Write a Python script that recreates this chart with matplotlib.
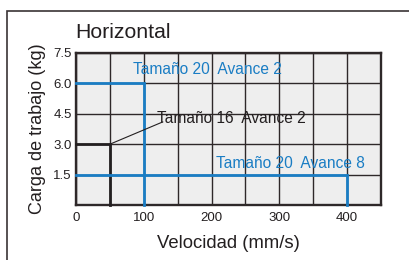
import matplotlib
matplotlib.use("Agg")
import matplotlib.pyplot as plt
from matplotlib.patches import Rectangle

plt.rcParams['font.family'] = ['Liberation Sans', 'DejaVu Sans']

title = "Horizontal"
xlabel = "Velocidad (mm/s)"
ylabel = "Carga de trabajo (kg)"
x_ticks = [0, 100, 200, 300, 400]
y_ticks = [1.5, 3.0, 4.5, 6.0, 7.5]
y_tick_labels = ["1.5", "3.0", "4.5", "6.0", "7.5"]

# series: (label, max speed, max load)
series_names = ["Tamaño 20  Avance 2", "Tamaño 16  Avance 2", "Tamaño 20  Avance 8"]
series_speed = [100, 50, 400]
series_load = [6.0, 3.0, 1.5]
series_colors = ["#1a7dc4", "#231f20", "#1a7dc4"]

fig = plt.figure(figsize=(4.09, 2.60), dpi=100)
ax = fig.add_axes([76/409, 1 - 205/260, 305/409, 152/260])

ax.set_xlim(0, 450)
ax.set_ylim(0, 7.5)
ax.set_facecolor("#eeeeee")
ax.set_xticks(x_ticks)
ax.set_xticks(range(0, 451, 50), minor=True)
ax.set_yticks(y_ticks)
ax.set_yticklabels(y_tick_labels)
ax.grid(True, which="both", color="#2e2829", linewidth=1.0)
ax.set_axisbelow(True)
ax.tick_params(which="both", length=0, labelsize=9.5, colors="#231f20", pad=5)
ax.tick_params(axis="y", pad=3)
for s in ax.spines.values():
    s.set_color("#2e2829")
    s.set_linewidth(1.7)

for name, sx, sy, c in zip(series_names, series_speed, series_load, series_colors):
    ax.plot([0, sx, sx], [sy, sy, 0], color=c, linewidth=2.0, solid_joinstyle="miter",
            clip_on=False, zorder=3)

# labels
ax.text(84, 6.71, series_names[0], color=series_colors[0], fontsize=11.2, va="center", ha="left")
ax.text(119, 4.29, series_names[1], color=series_colors[1], fontsize=11.2, va="center", ha="left")
ax.text(207, 2.07, series_names[2], color=series_colors[2], fontsize=11.2, va="center", ha="left")
ax.plot([series_speed[1], 128], [series_load[1], 4.1], color="#231f20", linewidth=0.8, zorder=3)

ax.set_xlabel(xlabel, fontsize=13.3, color="#231f20", labelpad=8)
ax.set_ylabel(ylabel, fontsize=13, color="#231f20", labelpad=5)
fig.text(75/409, 1 - 32/260, title, fontsize=15.3, color="#231f20", ha="left", va="center")

fig.patches.append(Rectangle((7/409, -0.1), 1.2, 1 - 10.5/260 + 0.1, transform=fig.transFigure,
                             fill=False, edgecolor="#3a3335", linewidth=1.2))

fig.savefig("out.png", dpi=100)
